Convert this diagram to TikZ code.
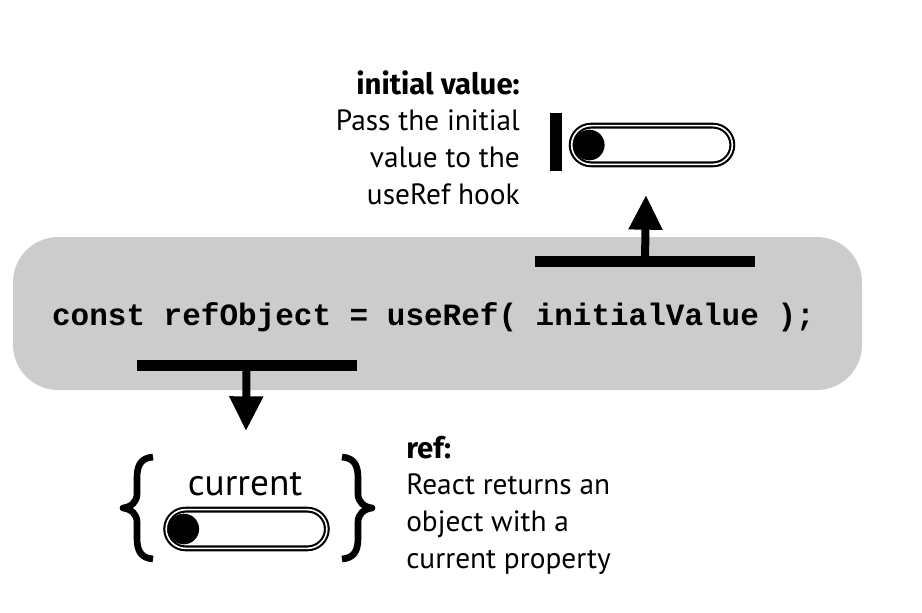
\documentclass[tikz,border=0pt]{standalone}
\usepackage{fontspec}
\setmainfont{PT Sans}
\setmonofont{Liberation Mono}
\newfontfamily\headfont{Fira Sans}
\usetikzlibrary{arrows.meta,positioning}
\definecolor{codegray}{RGB}{204,204,204}
\newcommand{\headtext}[1]{{\headfont\bfseries #1}}
\tikzset{
  bar/.style={fill=black, inner sep=0pt, minimum width=165pt, minimum height=8.25pt},
  stem/.style={line width=6pt, -{Triangle[length=26pt,width=24pt]}},
  pill/.style={draw, double, line width=1.6pt, double distance=1.2pt, rounded corners=14.5pt, minimum width=120.5pt, minimum height=29pt, inner sep=0pt},
  knob/.style={circle, fill=black, minimum size=23pt, inner sep=0pt},
  brace/.style={line width=5pt, line join=round},
  note/.style={font=\fontsize{22}{27.4}\selectfont, inner sep=0pt}
}
\begin{document}
\begin{tikzpicture}[x=0.75pt,y=0.75pt,yscale=-1,xscale=1]
        \useasboundingbox (0,0) rectangle (922,612);
        %Rounded Rect: code line
        \node [fill=codegray, rounded corners=34pt, minimum width=636.75pt, minimum height=114.75pt] (codebox) at (437.5,313.5) {};
        % Text Node
        \node [anchor=base, inner sep=0pt, font=\ttfamily\bfseries\fontsize{23.25}{27}\selectfont] (code) at (433.5,325) {const refObject = useRef( initialValue );};
        %Bars
        \node [bar] (topbar) at (645,261) {};
        \node [bar] (botbar) at (246.5,365.5) {};
        \coordinate (toptip) at (646,195);
        \coordinate (bottip) at (246,431);
        %Straight Lines: arrows
        \draw [stem] (topbar.center) -- (toptip);
        \draw [stem] (botbar.center) -- (bottip);
        %Shape: initial value slider
        \node [fill=black, inner sep=0pt, minimum width=9pt, minimum height=43.5pt] (stop) at (556,142) {};
        \node [pill] (initpill) at (652,145) {};
        \node [knob] (initknob) at ([xshift=14pt]initpill.west) {};
        %Shape: current slider
        \node [pill] (curpill) at (246.5,529) {};
        \node [knob] (curknob) at ([xshift=14pt]curpill.west) {};
        \node [anchor=base, inner sep=0pt, font=\fontsize{28}{30}\selectfont] (curlabel) at (245,495) {current};
        %Curve Lines: braces
        \draw [brace] (153,457) .. controls (141,458) and (137,465) .. (137,478) -- (137,494) .. controls (137,502) and (131,507) .. (123,508) .. controls (131,509) and (137,514) .. (137,522) -- (137,538) .. controls (137,551) and (141,558) .. (153,559);
        \draw [brace] (342,457) .. controls (354,458) and (358,465) .. (358,478) -- (358,494) .. controls (358,502) and (364,507) .. (372,508) .. controls (364,509) and (358,514) .. (358,522) -- (358,538) .. controls (358,551) and (354,558) .. (342,559);
        % Text Node
        \node [note, anchor=base east, align=right] (initlabel) at (520,204) {\headtext{initial value:}\\Pass the initial\\value to the\\useRef hook};
        % Text Node
        \node [note, anchor=base west, align=left] (reflabel) at (406,568) {\headtext{ref:}\\React returns an\\object with a\\current property};
\end{tikzpicture}
\end{document}
